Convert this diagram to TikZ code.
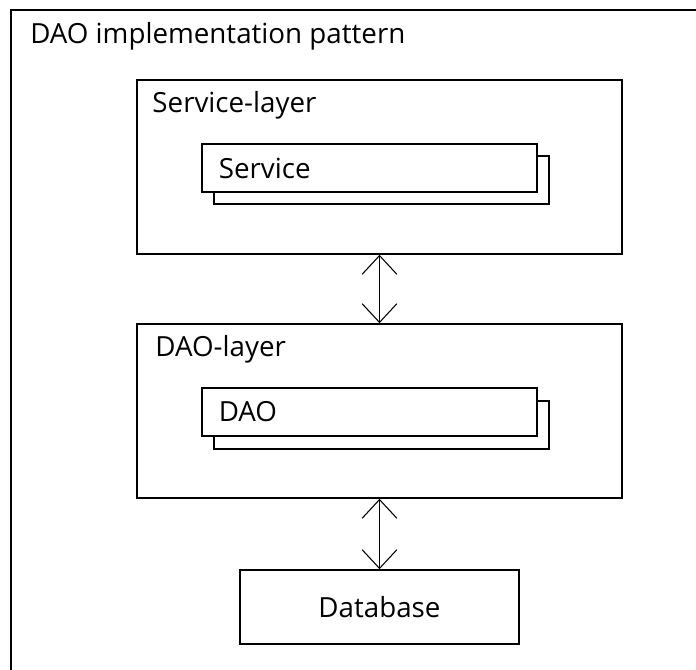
\documentclass[tikz,border=0pt]{standalone}
\usepackage{fontspec}
\setmainfont{Open Sans}
\usepackage{tikz}
\usetikzlibrary{arrows.meta}
\tikzstyle{layer}=[
        draw,
        line width=1.2pt,
        minimum width=363.75pt,
        minimum height=130.5pt
]
\tikzstyle{part}=[
        draw,
        fill=white,
        line width=1.2pt,
        minimum height=36pt,
        text width=226pt,
        inner xsep=12.5pt,
        align=left
]
\tikzstyle{link}=[
        line width=1.1pt,
        {Straight Barb[length=14pt,width=26pt,line width=0.8pt]}-{Straight Barb[length=14pt,width=26pt,line width=0.8pt]}
]

\begin{document}
\begin{tikzpicture}[x=0.75pt,y=-0.75pt,font=\fontsize{20.8}{25}\selectfont]
                        \useasboundingbox (0,0) rectangle (696,670);
                        \clip (0,0) rectangle (696,670);

                        \draw[line width=1.2pt] (11,10) rectangle (720,700);
                        \node[anchor=base west,inner sep=0pt] (title) at (30,44) {DAO implementation pattern};

                        % service layer
                        \node[layer] (svclayer) at (379.5,167) {};
                        \node[anchor=base west,inner sep=0pt] (svclabel) at ([shift={(16,33)}]svclayer.north west) {Service-layer};
                        \node[part] (svcshadow) at (381.5,180) {};
                        \node[part] (svc) at (369.5,168) {Service};

                        % dao layer
                        \node[layer] (daolayer) at (379.5,411) {};
                        \node[anchor=base west,inner sep=0pt] (daolabel) at ([shift={(19,33)}]daolayer.north west) {DAO-layer};
                        \node[part] (daoshadow) at (381.5,425) {};
                        \node[part] (dao) at (369.5,412) {DAO};

                        \node[draw,line width=1.2pt,minimum width=209.25pt,minimum height=55.5pt] (db) at (379.5,607) {Database};

                        \draw[link] (svclayer.south) -- (daolayer.north);
                        \draw[link] (daolayer.south) -- (db.north);
                    \end{tikzpicture}
\end{document}
